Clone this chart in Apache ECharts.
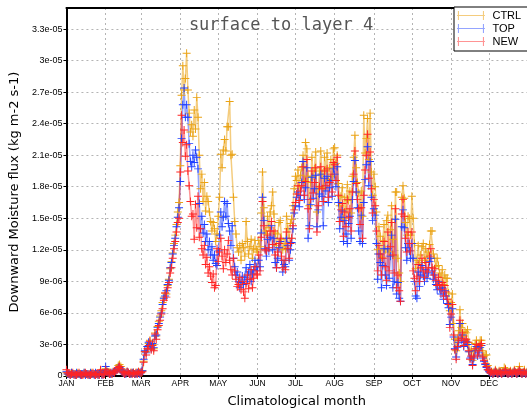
<!DOCTYPE html>
<html>
<head>
<meta charset="utf-8">
<script src="https://cdn.jsdelivr.net/npm/echarts@6/dist/echarts.min.js"></script>
<style>
  html, body { margin: 0; padding: 0; background: #fff; }
  #chart { width: 527px; height: 413px; }
</style>
</head>
<body>
<div id="chart"></div>
<script>
// values are in units of 1e-06 kg m-2 s-1, one per day of the year
var monthNames = ['JAN','FEB','MAR','APR','MAY','JUN','JUL','AUG','SEP','OCT','NOV','DEC'];
var monthDays = [31,28,31,30,31,30,31,31,30,31,30,31];
var seriesNames = ['CTRL','TOP','NEW'];

var ctrl = [
  0.3,0.2,0.2,0.2,0.3,0.2,0.2,0.1,0.2,0.3,0.2,0.2,0.1,0.2,0.3,0.2,0.2,0.2,0.1,0.2,0.3,0.2,0.2,0.2,0.2,0.1,0.3,0.5,0.2,0.2,0.3,
  0.7,0.4,0.3,0.3,0.3,0.2,0.4,0.4,0.5,0.7,1.0,1.1,0.9,0.5,0.3,0.3,0.3,0.4,0.3,0.2,0.3,0.3,0.3,0.2,0.3,0.3,0.4,0.3,
  0.3,0.5,1.4,2.3,2.3,2.8,3.1,3.4,2.7,3.0,2.6,4.1,3.8,4.7,5.2,5.7,6.2,7.0,7.5,7.9,7.8,8.6,9.2,10.2,10.9,11.7,12.6,13.4,14.4,15.6,16.5,
  20.0,26.7,29.5,27.2,28.3,30.7,27.2,25.0,23.2,23.9,22.8,25.3,23.5,26.5,24.6,21.0,17.8,19.2,16.6,18.4,15.7,17.1,16.6,15.6,14.7,13.8,14.6,14.0,12.8,13.5,
  15.2,17.0,21.1,19.8,21.5,22.5,21.4,23.7,23.7,26.1,21.0,21.1,17.0,14.7,13.5,12.2,11.8,12.4,11.0,12.6,12.2,11.4,14.7,12.8,11.6,12.3,13.0,11.2,12.1,12.9,12.0,
  11.8,12.9,12.3,15.5,19.4,16.0,13.8,13.5,15.2,14.1,15.6,16.2,17.5,15.4,13.6,12.4,13.5,14.6,14.8,13.0,12.0,12.6,12.1,15.2,14.0,13.1,14.5,14.9,16.2,17.8,
  19.0,18.6,19.6,18.0,19.1,19.8,21.0,18.6,22.2,21.6,19.0,16.2,18.4,20.8,19.0,19.7,21.3,15.6,17.8,19.5,21.4,19.2,17.9,20.8,19.6,21.2,18.7,19.8,20.6,19.0,21.6,
  21.7,20.2,21.0,18.3,16.2,17.1,17.9,15.0,17.0,15.8,18.2,16.7,17.6,15.5,19.0,20.8,22.9,19.8,18.4,17.4,16.0,17.6,15.2,24.8,21.2,22.6,24.5,20.6,25.0,19.4,17.2,
  19.2,18.0,15.6,12.0,14.2,13.3,11.3,12.9,14.4,12.0,14.8,15.3,11.8,13.9,16.2,13.0,11.4,17.5,17.5,11.2,9.8,9.0,17.0,18.1,16.9,14.6,13.4,15.2,15.0,13.4,
  17.1,15.0,12.6,10.2,11.0,12.4,10.8,11.5,12.3,12.6,11.0,12.1,11.3,11.8,12.5,13.8,13.8,11.6,11.2,10.4,11.2,10.5,9.8,9.4,10.1,8.7,9.6,9.3,9.3,7.9,6.2,
  7.0,7.8,5.0,3.5,2.4,3.6,4.3,6.3,4.6,5.0,3.8,4.2,4.1,4.4,3.2,2.3,2.5,1.5,2.4,3.1,3.4,2.6,3.0,3.4,3.4,2.4,1.9,2.0,2.0,1.0,
  0.6,0.4,0.4,0.3,0.4,0.6,0.4,0.3,0.5,0.4,0.3,0.4,0.8,0.7,0.4,0.3,0.4,0.5,0.3,0.4,0.6,0.4,0.3,0.5,0.9,0.4,0.3,0.4,0.6,0.3,0.4
];

var top4 = [
  0.4,0.2,0.2,0.1,0.3,0.2,0.2,0.1,0.3,0.2,0.2,0.1,0.2,0.2,0.3,0.1,0.2,0.2,0.1,0.3,0.2,0.2,0.1,0.3,0.2,0.1,0.2,0.5,0.1,0.2,0.3,
  0.9,0.4,0.3,0.2,0.2,0.3,0.3,0.4,0.5,0.6,0.8,0.8,0.6,0.4,0.3,0.2,0.2,0.4,0.3,0.2,0.2,0.3,0.3,0.2,0.2,0.3,0.3,0.2,
  0.4,0.5,1.6,2.4,2.2,2.8,3.2,3.0,2.6,3.1,2.7,3.8,3.9,4.6,5.0,5.6,6.0,6.8,7.4,7.6,8.1,8.7,9.1,10.3,10.8,11.6,12.4,13.1,14.2,15.1,16.0,
  18.5,22.6,25.8,27.4,24.6,25.8,24.6,22.1,20.4,19.9,21.0,20.3,21.5,20.8,19.7,16.4,14.0,15.2,13.6,14.4,12.8,13.5,12.0,12.8,11.5,12.3,11.0,11.5,10.7,10.5,
  11.9,13.4,15.6,14.2,15.1,16.6,15.2,16.4,14.5,13.8,12.4,14.3,11.2,10.4,9.6,9.9,9.0,8.4,8.9,9.5,8.7,9.4,10.3,9.2,9.9,10.6,9.0,9.7,10.1,11.0,10.4,
  10.0,11.0,10.4,13.6,17.0,14.8,12.1,11.4,13.0,11.9,13.2,14.3,12.0,13.1,10.8,10.3,11.2,12.2,12.8,11.0,9.9,10.6,10.4,13.1,12.4,11.0,12.0,12.7,14.0,15.5,
  16.2,17.0,17.5,16.1,17.2,18.4,20.4,16.8,17.9,19.8,13.1,14.3,16.3,18.9,16.9,17.8,19.1,14.2,15.8,17.3,19.2,17.1,14.3,18.8,17.6,19.0,16.5,17.9,18.6,17.1,19.7,
  19.2,18.0,19.9,16.5,14.0,15.1,15.7,12.8,14.8,13.5,12.6,14.5,15.2,13.1,16.8,18.5,20.5,17.5,16.0,13.8,12.8,15.3,12.6,16.5,18.7,20.1,21.8,18.1,20.4,17.0,14.8,
  15.9,15.3,12.6,9.2,11.6,10.8,8.4,10.5,12.1,9.6,8.6,12.1,9.3,11.4,13.4,8.4,9.0,14.9,7.8,8.9,7.4,7.1,14.2,15.8,14.1,12.2,11.0,12.6,11.9,11.2,
  12.6,11.2,9.0,7.6,7.4,9.9,8.5,9.6,10.5,9.5,9.0,10.1,9.3,9.8,10.9,11.2,10.0,9.2,9.6,8.7,8.2,9.0,8.3,7.8,8.4,7.3,8.1,7.6,6.9,6.5,4.9,
  5.6,6.4,3.7,2.6,1.8,2.7,3.2,5.0,3.4,3.9,2.8,3.2,3.3,3.0,2.3,1.7,1.8,1.1,1.7,2.4,2.8,1.9,2.2,2.7,2.9,1.7,1.4,1.1,0.8,0.6,
  0.4,0.3,0.3,0.2,0.3,0.4,0.3,0.2,0.3,0.3,0.2,0.3,0.3,0.5,0.3,0.2,0.3,0.3,0.2,0.3,0.4,0.3,0.2,0.3,0.5,0.3,0.2,0.3,0.3,0.2,0.3
];

var newv = [
  0.6,0.3,0.2,0.1,0.2,0.3,0.1,0.2,0.1,0.2,0.3,0.2,0.1,0.1,0.2,0.3,0.2,0.1,0.2,0.1,0.2,0.3,0.2,0.1,0.2,0.2,0.1,0.6,0.2,0.1,0.2,
  0.6,0.4,0.3,0.2,0.3,0.2,0.4,0.3,0.5,0.6,0.8,0.9,0.7,0.4,0.3,0.2,0.3,0.4,0.3,0.2,0.3,0.2,0.3,0.2,0.3,0.2,0.4,0.3,
  0.3,0.4,1.3,2.3,2.0,2.6,2.9,3.3,2.5,2.9,2.4,4.0,3.5,4.4,4.8,5.3,5.9,6.4,7.2,7.9,7.5,8.4,8.9,9.8,10.3,11.2,12.1,12.8,13.7,14.6,15.0,
  19.4,24.8,22.2,23.4,20.9,22.0,19.5,18.1,16.6,15.2,15.4,13.0,16.3,14.1,17.1,13.2,14.0,12.1,11.5,12.4,10.6,11.3,9.8,10.4,9.5,8.9,9.7,8.4,8.6,12.1,
  10.9,11.8,13.1,11.4,10.2,12.0,10.8,11.6,12.9,11.0,10.1,9.6,11.2,10.0,9.2,8.5,8.7,9.4,8.2,9.0,8.0,7.4,8.8,9.6,8.3,9.2,10.1,8.4,9.3,10.4,9.7,
  9.6,11.5,10.0,13.2,16.6,14.3,12.0,11.9,13.4,12.2,13.8,14.7,12.5,13.8,11.5,10.3,11.8,12.6,13.1,11.4,10.3,11.0,10.1,13.7,12.1,11.2,12.6,13.1,14.3,15.8,
  16.5,17.3,18.1,16.7,17.6,18.1,19.9,17.2,18.5,20.6,15.9,14.0,16.8,19.5,17.4,18.4,19.8,13.7,16.2,18.0,19.9,17.8,16.6,19.5,18.1,19.7,17.0,18.4,19.2,17.5,20.3,
  20.1,18.6,20.8,17.2,14.7,15.8,16.4,13.3,15.6,14.2,16.8,15.1,15.9,13.8,17.5,19.2,21.4,18.3,16.8,15.9,14.4,16.0,13.1,17.2,19.6,21.0,23.0,18.8,21.3,17.8,15.5,
  16.8,16.2,13.8,10.0,12.4,11.6,9.6,11.2,12.8,10.4,9.1,13.7,10.0,12.3,14.6,11.5,9.8,15.9,8.4,9.6,8.1,7.1,15.4,16.8,15.2,13.1,11.8,13.7,12.6,11.9,
  13.7,10.0,9.3,8.1,9.5,10.6,9.0,10.3,11.2,10.0,9.4,10.8,9.9,10.3,11.4,12.1,10.3,9.6,10.2,9.1,8.6,9.4,8.7,8.2,8.9,7.6,8.6,8.0,7.3,6.8,4.6,
  5.9,6.8,3.9,2.5,1.6,2.8,3.4,5.3,3.6,4.1,2.9,3.4,3.5,3.2,2.4,1.6,1.9,1.0,1.8,2.6,3.0,2.0,2.4,2.9,3.1,1.8,1.5,1.2,0.9,0.6,
  0.5,0.3,0.4,0.2,0.3,0.5,0.3,0.2,0.4,0.3,0.2,0.3,0.4,0.6,0.3,0.2,0.3,0.4,0.2,0.3,0.5,0.3,0.2,0.4,0.6,0.3,0.2,0.3,0.4,0.2,0.3
];

// one category per day, labelled on the first day of each month
var days = [];
for (var m = 0; m < 12; m++) {
  for (var d = 1; d <= monthDays[m]; d++) {
    days.push(monthNames[m] + ' ' + d);
  }
}
function isMonthStart(i, v) { return / 1$/.test(v); }

var plus = 'path://M4.4,0H5.6V4.4H10V5.6H5.6V10H4.4V5.6H0V4.4H4.4Z';
var legendIcon = 'path://M0,4.4H31V5.6H0Z M1,0H2.2V10H1Z M28.8,0H30V10H28.8Z';
var solid = ['#eaa315', '#2040ff', '#ff2424'];
var faded = ['rgba(236,170,40,0.6)', 'rgba(60,90,255,0.55)', 'rgba(255,60,60,0.55)'];
var values = [ctrl, top4, newv];

function yLabel(v) {
  if (v % 3 !== 0) return '';
  if (v === 0) return '0';
  if (v >= 10) return (v / 10) + 'e-05';
  return v + 'e-06';
}

var series = [];
for (var s = 0; s < 3; s++) {
  series.push({
    name: seriesNames[s],
    type: 'line',
    data: values[s],
    symbol: plus,
    symbolSize: 8,
    showAllSymbol: true,
    itemStyle: { color: solid[s] },
    lineStyle: { color: faded[s], width: 1.5 },
    emphasis: { disabled: true }
  });
}

var myChart = echarts.init(document.getElementById('chart'));
myChart.setOption({
  animation: false,
  backgroundColor: '#fff',
  title: {
    text: 'surface to layer 4',
    left: 276,
    textAlign: 'center',
    top: 12,
    textStyle: { fontFamily: 'DejaVu Sans Mono', fontSize: 17, fontWeight: 'normal', color: '#555' }
  },
  legend: {
    orient: 'vertical',
    left: 454,
    top: 7,
    padding: [3, 30, 4, 3],
    itemWidth: 31,
    itemHeight: 9,
    itemGap: 2,
    backgroundColor: '#fff',
    borderColor: '#000',
    borderWidth: 1,
    borderRadius: 0,
    textStyle: { fontFamily: 'Liberation Sans', fontSize: 11, color: '#000', padding: [0, 0, 0, 1] },
    data: seriesNames.map(function (n, i) {
      return { name: n, icon: legendIcon, itemStyle: { color: faded[i] } };
    })
  },
  grid: { left: 66, right: 0, top: 8, bottom: 34 },
  xAxis: [{
    type: 'category',
    data: days,
    boundaryGap: false,
    name: 'Climatological month',
    nameLocation: 'middle',
    nameGap: 19,
    nameTextStyle: { fontFamily: 'DejaVu Sans', fontSize: 13, color: '#000' },
    axisLine: { lineStyle: { color: '#000', width: 2 } },
    axisTick: { show: true, interval: isMonthStart, length: 3, lineStyle: { color: '#000' } },
    axisLabel: {
      interval: isMonthStart,
      formatter: function (v) { return v.split(' ')[0]; },
      fontFamily: 'Liberation Sans',
      fontSize: 8.5,
      color: '#000',
      margin: 3
    },
    splitLine: { show: true, interval: isMonthStart, lineStyle: { color: '#b4b4b4', type: [2, 3], width: 1 } }
  }, {
    type: 'category',
    data: days,
    position: 'top',
    boundaryGap: false,
    axisLine: { lineStyle: { color: '#000', width: 2 } },
    axisTick: { show: false },
    axisLabel: { show: false },
    splitLine: { show: false }
  }],
  yAxis: {
    type: 'value',
    min: 0,
    max: 35,
    interval: 3,
    name: 'Downward Moisture flux (kg m-2 s-1)',
    nameLocation: 'middle',
    nameGap: 42,
    nameTextStyle: { fontFamily: 'DejaVu Sans', fontSize: 13, color: '#000' },
    axisLine: { show: true, lineStyle: { color: '#000', width: 2 } },
    axisTick: { show: true, length: 3, lineStyle: { color: '#000' } },
    axisLabel: {
      formatter: yLabel,
      showMaxLabel: false,
      fontFamily: 'Liberation Sans',
      fontSize: 9,
      color: '#000',
      margin: 4
    },
    splitLine: { show: true, lineStyle: { color: '#b4b4b4', type: [2, 3], width: 1 } }
  },
  series: series
});
</script>
</body>
</html>
